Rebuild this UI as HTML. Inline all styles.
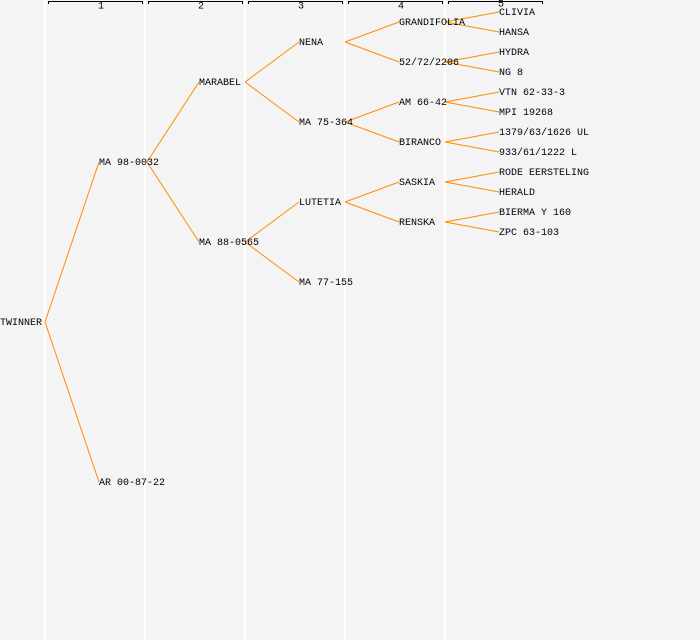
<!DOCTYPE html>
<html><head><style>
body{margin:0;background:#f4f4f4;}
svg{display:block}
text{font-family:"Liberation Mono",monospace;font-size:10px;fill:#000;dominant-baseline:central}
</style></head><body>
<svg width="700" height="640" xmlns="http://www.w3.org/2000/svg">
<rect width="700" height="640" fill="#f4f4f4"/>
<g stroke="#fff" stroke-width="2">
<line x1="45" y1="0" x2="45" y2="640"/><line x1="145" y1="0" x2="145" y2="640"/>
<line x1="245" y1="0" x2="245" y2="640"/><line x1="345" y1="0" x2="345" y2="640"/>
<line x1="445" y1="0" x2="445" y2="640"/>
</g>
<g stroke="#000" stroke-width="1" fill="none">
<path d="M48.5 4V1.5H142.5V4"/><path d="M148.5 4V1.5H242.5V4"/><path d="M248.5 4V1.5H342.5V4"/><path d="M348.5 4V1.5H442.5V4"/><path d="M448.5 4V1.5H542.5V4"/>
</g>
<g style="font-size:8px">
<text x="101" y="7" text-anchor="middle">1</text><text x="201" y="7" text-anchor="middle">2</text><text x="301" y="7" text-anchor="middle">3</text><text x="401" y="7" text-anchor="middle">4</text><text x="501" y="5" text-anchor="middle">5</text>
</g>
<g stroke="#ff8c00" stroke-width="1" fill="none">
<path d="M45 322L99 162M45 322L99 482"/>
<path d="M147 162L199 82M147 162L199 242"/>
<path d="M245 82L299 42M245 82L299 122M245 242L299 202M245 242L299 282"/>
<path d="M345 42L399 22M345 42L399 62M345 122L399 102M345 122L399 142M345 202L399 182M345 202L399 222"/>
<path d="M445 22L499 12M445 22L499 32M445 62L499 52M445 62L499 72M445 102L499 92M445 102L499 112M445 142L499 132M445 142L499 152M445 182L499 172M445 182L499 192M445 222L499 212M445 222L499 232"/>
</g>
<g transform="translate(0,1.5)">
<text x="0" y="322">TWINNER</text>
<text x="99" y="162">MA 98-0032</text><text x="99" y="482">AR 00-87-22</text>
<text x="199" y="82">MARABEL</text><text x="199" y="242">MA 88-0565</text>
<text x="299" y="42">NENA</text><text x="299" y="122">MA 75-364</text><text x="299" y="202">LUTETIA</text><text x="299" y="282">MA 77-155</text>
<text x="399" y="22">GRANDIFOLIA</text><text x="399" y="62">52/72/2206</text><text x="399" y="102">AM 66-42</text><text x="399" y="142">BIRANCO</text><text x="399" y="182">SASKIA</text><text x="399" y="222">RENSKA</text>
<text x="499" y="12">CLIVIA</text><text x="499" y="32">HANSA</text><text x="499" y="52">HYDRA</text><text x="499" y="72">NG 8</text><text x="499" y="92">VTN 62-33-3</text><text x="499" y="112">MPI 19268</text><text x="499" y="132">1379/63/1626 UL</text><text x="499" y="152">933/61/1222 L</text><text x="499" y="172">RODE EERSTELING</text><text x="499" y="192">HERALD</text><text x="499" y="212">BIERMA Y 160</text><text x="499" y="232">ZPC 63-103</text>
</g>
</svg>
</body></html>
